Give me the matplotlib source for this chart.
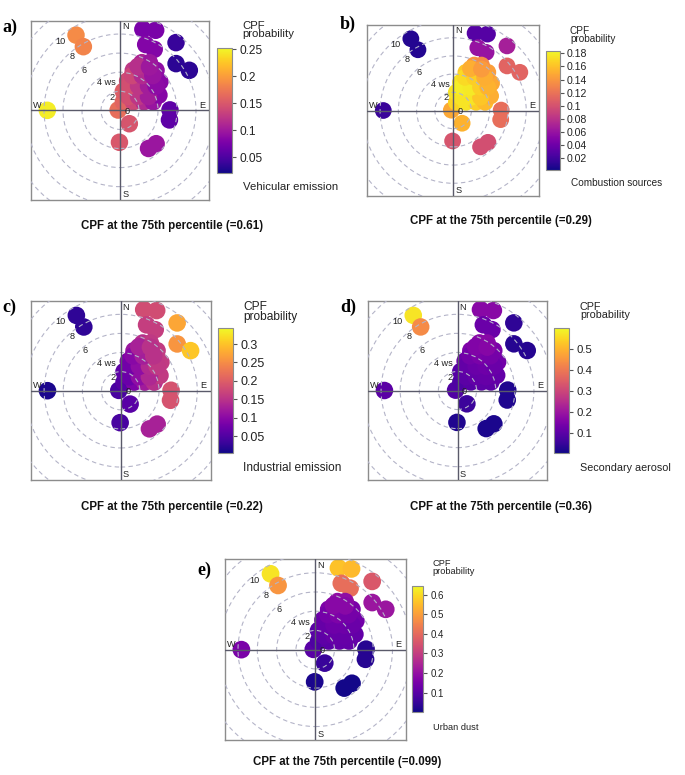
import numpy as np
import matplotlib
matplotlib.use("Agg")
import matplotlib.pyplot as plt
from matplotlib.patches import Circle
from matplotlib.collections import PatchCollection
from matplotlib.colors import Normalize
from matplotlib.cm import ScalarMappable

plt.rcParams['font.family'] = ['Liberation Sans', 'DejaVu Sans']

# ---------------- data ----------------
# wind direction (deg from N) and wind speed of each CPF bubble (shared by all panels)
wd = [270, 329.6, 330.0, 280, 145.0, 181, 143.1, 132.6, 89.5, 100.9,
      15.8, 24.1, 21.4, 29.4, 39.7, 50.3, 60.1,
      21.3, 57.3, 70.2, 75.6, 9.9, 35.0, 51.3, 60.3, 68.7,
      14.5, 30.1, 43.1, 54.5, 18.4, 31.4, 42.1, 24.7, 31.8,
      31.8, 53.4, 64.2, 19.4, 37.4, 49.6, 56.1, 19.6, 32.8, 43.4, 22.4, 34.3]
ws = [7.65, 9.15, 7.71, 0.2, 1.71, 3.35, 5.0, 5.17, 5.26, 5.30,
      8.83, 9.20, 7.41, 7.34, 9.23, 7.67, 8.42,
      0.97, 1.66, 2.66, 3.61, 2.03, 2.44, 3.20, 4.03, 4.40,
      3.20, 3.58, 4.24, 5.16, 4.43, 4.80, 5.66, 5.50, 5.88,
      1.71, 2.43, 3.33, 2.70, 3.21, 3.94, 4.58, 3.87, 4.34, 5.02, 4.98, 5.51]

cpf_vehicular = [0.246, 0.188, 0.183, 0.167, 0.148, 0.150, 0.097, 0.097, 0.060, 0.060,
                 0.076, 0.076, 0.081, 0.081, 0.039, 0.032, 0.032,
                 0.160, 0.137, 0.113, 0.095, 0.155, 0.132, 0.113, 0.095, 0.083,
                 0.141, 0.125, 0.106, 0.085, 0.125, 0.109, 0.090, 0.109, 0.097,
                 0.143, 0.123, 0.102, 0.143, 0.123, 0.102, 0.088, 0.137, 0.113, 0.095, 0.118, 0.099]
cpf_combustion = [0.017, 0.009, 0.009, 0.148, 0.153, 0.102, 0.098, 0.098, 0.117, 0.117,
                  0.029, 0.029, 0.060, 0.060, 0.068, 0.111, 0.111,
                  0.169, 0.175, 0.166, 0.157, 0.175, 0.180, 0.171, 0.160, 0.151,
                  0.175, 0.175, 0.166, 0.148, 0.162, 0.157, 0.144, 0.139, 0.133,
                  0.175, 0.175, 0.162, 0.179, 0.177, 0.166, 0.153, 0.171, 0.166, 0.151, 0.151, 0.142]
cpf_industrial = [0.010, 0.023, 0.023, 0.044, 0.057, 0.044, 0.129, 0.129, 0.187, 0.187,
                  0.180, 0.180, 0.163, 0.163, 0.275, 0.258, 0.302,
                  0.054, 0.088, 0.122, 0.146, 0.061, 0.095, 0.125, 0.149, 0.159,
                  0.088, 0.112, 0.139, 0.159, 0.115, 0.139, 0.159, 0.146, 0.156,
                  0.071, 0.105, 0.136, 0.078, 0.105, 0.139, 0.156, 0.098, 0.125, 0.149, 0.129, 0.149]
cpf_secondary = [0.099, 0.566, 0.430, 0.087, 0.057, 0.022, 0.016, 0.016, 0.022, 0.022,
                 0.170, 0.170, 0.122, 0.122, 0.040, 0.028, 0.028,
                 0.081, 0.093, 0.105, 0.105, 0.093, 0.111, 0.122, 0.122, 0.111,
                 0.122, 0.134, 0.140, 0.134, 0.152, 0.158, 0.146, 0.170, 0.170,
                 0.099, 0.111, 0.116, 0.111, 0.122, 0.128, 0.122, 0.134, 0.146, 0.140, 0.158, 0.164]
cpf_dust = [0.155, 0.612, 0.483, 0.103, 0.052, 0.013, 0.006, 0.006, 0.026, 0.026,
            0.560, 0.547, 0.406, 0.406, 0.361, 0.213, 0.213,
            0.084, 0.103, 0.116, 0.116, 0.103, 0.122, 0.129, 0.129, 0.116,
            0.129, 0.142, 0.148, 0.142, 0.161, 0.167, 0.155, 0.193, 0.193,
            0.109, 0.122, 0.122, 0.122, 0.135, 0.135, 0.129, 0.148, 0.161, 0.148, 0.180, 0.180]

panel_letters = ['a)', 'b)', 'c)', 'd)', 'e)']
sources = ['Vehicular emission', 'Combustion sources', 'Industrial emission',
           'Secondary aerosol', 'Urban dust']
percentile_values = ['0.61', '0.29', '0.22', '0.36', '0.099']
cbar_limits = [(0.02, 0.253), (0.002, 0.184), (0.003, 0.343), (0.004, 0.596), (0.0, 0.644)]
cbar_ticks = [[0.05, 0.1, 0.15, 0.2, 0.25],
              [0.02, 0.04, 0.06, 0.08, 0.1, 0.12, 0.14, 0.16, 0.18],
              [0.05, 0.1, 0.15, 0.2, 0.25, 0.3],
              [0.1, 0.2, 0.3, 0.4, 0.5],
              [0.1, 0.2, 0.3, 0.4, 0.5, 0.6]]
ring_ws = [2, 4, 6, 8, 10, 12]
ring_labels = ['2', '4 ws', '6', '8', '10']
all_cpf = [cpf_vehicular, cpf_combustion, cpf_industrial, cpf_secondary, cpf_dust]

# ---------------- layout (pixels) ----------------
W, H = 685, 775
layout = [
    dict(box=(30.7, 20.7, 209.3, 200.0), cb=(216.7, 47.7, 232.3, 173.3), cpf=(242.7, 21.0),
         cap=(242.7, 187.3), title=(172, 226), letter=(2, 27), fs=8.6),
    dict(box=(367.3, 25.0, 539.0, 196.0), cb=(545.7, 50.7, 560.0, 170.0), cpf=(570.0, 25.5),
         cap=(571.0, 183.3), title=(501, 221), letter=(340, 24), fs=7.6),
    dict(box=(30.7, 301.0, 210.7, 480.4), cb=(217.7, 328.3, 233.3, 453.3), cpf=(243.0, 301.0),
         cap=(243.0, 468.0), title=(172, 507), letter=(2, 307.5), fs=9.0),
    dict(box=(367.7, 301.0, 547.3, 480.0), cb=(554.3, 328.3, 569.3, 453.3), cpf=(580.0, 301.5),
         cap=(580.0, 468.0), title=(501, 507), letter=(340, 307.5), fs=8.2),
    dict(box=(224.5, 559.3, 406.0, 740.0), cb=(411.7, 586.0, 423.3, 712.3), cpf=(432.7, 559.5),
         cap=(432.7, 727.3), title=(346.7, 761.7), letter=(197, 570), fs=7.0),
]


def rect(x0, y0, x1, y1):
    return [x0 / W, 1 - y1 / H, (x1 - x0) / W, (y1 - y0) / H]


fig = plt.figure(figsize=(W / 100, H / 100), dpi=100)
cmap = plt.get_cmap('plasma')
LIM = 9.4
wd_r = np.deg2rad(np.array(wd))
bx = np.array(ws) * np.sin(wd_r)
by = np.array(ws) * np.cos(wd_r)
ring_lab_bearing = [330, 323, 318, 318, 319]
grid_col = '#b4b4c8'
axis_col = '#5a5a6a'

for i, lay in enumerate(layout):
    ax = fig.add_axes(rect(*lay['box']))
    ax.set_xlim(-LIM, LIM)
    ax.set_ylim(-LIM, LIM)
    ax.set_xticks([])
    ax.set_yticks([])
    for s in ax.spines.values():
        s.set_color('#8c8c8c')
        s.set_linewidth(1.0)
    vmin, vmax = cbar_limits[i]
    norm = Normalize(vmin, vmax)
    circles = [Circle((x, y), 0.92) for x, y in zip(bx, by)]
    pc = PatchCollection(circles, cmap=cmap, norm=norm, edgecolor='none', zorder=2)
    pc.set_array(np.array(all_cpf[i]))
    ax.add_collection(pc)
    for r in ring_ws:
        ax.add_patch(Circle((0, 0), r, fill=False, edgecolor=grid_col, lw=0.8,
                            linestyle=(0, (4, 3)), zorder=3))
    ax.axhline(0, color=axis_col, lw=1.0, zorder=4)
    ax.axvline(0, color=axis_col, lw=1.0, zorder=4)
    rfs = 6.6
    for r, lab, b in zip(ring_ws, ring_labels, ring_lab_bearing):
        rr = r - 0.4
        tx = rr * np.sin(np.deg2rad(b))
        ty = rr * np.cos(np.deg2rad(b))
        if lab == '4 ws':
            ax.text(tx - 0.3, ty, lab, ha='left', va='center', fontsize=rfs, color='#222222', zorder=5)
        else:
            ax.text(tx, ty, lab, ha='center', va='center', fontsize=rfs, color='#222222', zorder=5)
    ax.text(0.74, -0.07, '0', ha='center', va='center', fontsize=rfs, color='#222222', zorder=5)
    ax.text(0.56, 8.75, 'N', ha='center', va='center', fontsize=rfs, color='#222222', zorder=5)
    ax.text(0.56, -8.8, 'S', ha='center', va='center', fontsize=rfs, color='#222222', zorder=5)
    ax.text(8.65, 0.55, 'E', ha='center', va='center', fontsize=rfs, color='#222222', zorder=5)
    ax.text(-8.75, 0.55, 'W', ha='center', va='center', fontsize=rfs, color='#222222', zorder=5)

    cax = fig.add_axes(rect(*lay['cb']))
    cb = fig.colorbar(ScalarMappable(norm=norm, cmap=cmap), cax=cax)
    cb.set_ticks(cbar_ticks[i])
    cb.set_ticklabels([('%g' % t) for t in cbar_ticks[i]])
    cb.outline.set_edgecolor('#8c8c8c')
    cb.outline.set_linewidth(0.8)
    cax.tick_params(axis='y', direction='out', length=3, width=0.8, color='#555555',
                    labelsize=lay['fs'], pad=2, labelcolor='#222222')

    fs = lay['fs']
    fig.text(lay['cpf'][0] / W, 1 - lay['cpf'][1] / H, 'CPF\nprobability', ha='left', va='top',
             fontsize=fs * 0.95, linespacing=0.8, color='#222222')
    fig.text(lay['cap'][0] / W, 1 - lay['cap'][1] / H, sources[i], ha='left', va='center',
             fontsize=fs * 0.95, color='#222222')
    fig.text(lay['title'][0] / W, 1 - lay['title'][1] / H,
             'CPF at the 75th percentile (=%s)' % percentile_values[i],
             ha='center', va='center', fontsize=8.3, fontweight='bold', color='#111111')
    fig.text(lay['letter'][0] / W, 1 - lay['letter'][1] / H, panel_letters[i],
             ha='left', va='center', fontsize=13, fontweight='bold',
             family=['Liberation Serif', 'DejaVu Serif'], color='#000000')

fig.savefig('out.png', dpi=100, facecolor='white')
